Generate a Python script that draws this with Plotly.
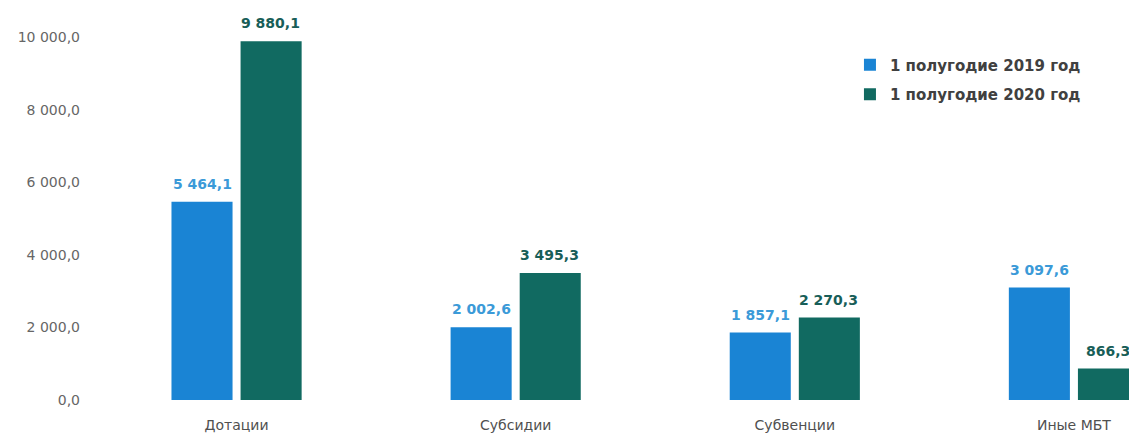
import plotly.graph_objects as go

categories = ["Дотации", "Субсидии", "Субвенции", "Иные МБТ"]
vals_2019 = [5464.1, 2002.6, 1857.1, 3097.6]
vals_2020 = [9880.1, 3495.3, 2270.3, 866.3]
y_ticks = [0, 2000, 4000, 6000, 8000, 10000]

FONT = "DejaVu Sans"
BLUE = "#1a84d4"
TEAL = "#116a61"


def fmt(v):
    s = f"{v:,.1f}"
    return s.replace(",", " ").replace(".", ",")


fig = go.Figure()
fig.add_trace(go.Bar(
    x=categories, y=vals_2019, name="<b>1 полугодие 2019 год</b>",
    legendgroup="a", marker=dict(color=BLUE, line=dict(width=0)),
))
fig.add_trace(go.Bar(
    x=categories, y=vals_2020, name="<b>1 полугодие 2020 год</b>",
    legendgroup="b", marker=dict(color=TEAL, line=dict(width=0)),
))

# value labels above bars, a bit higher than plotly's outside text
for cat, v1, v2 in zip(categories, vals_2019, vals_2020):
    fig.add_annotation(x=cat, y=v1, text="<b>" + fmt(v1) + "</b>",
                       xshift=-34, yshift=8, yanchor="bottom", showarrow=False,
                       font=dict(family=FONT, size=14, color="#3b9ad8"))
    fig.add_annotation(x=cat, y=v2, text="<b>" + fmt(v2) + "</b>",
                       xshift=34, yshift=8, yanchor="bottom", showarrow=False,
                       font=dict(family=FONT, size=14, color="#185e58"))

# page body has an 8px margin, so margins are shifted to compensate
fig.update_layout(
    width=1129, height=426,
    margin=dict(l=89, r=0, t=29, b=34),
    paper_bgcolor="white", plot_bgcolor="white",
    font=dict(family=FONT, color="#555555"),
    barmode="group", bargap=0.505, bargroupgap=0.116,
    showlegend=True,
    legend=dict(x=0.724, y=0.968, xanchor="left", yanchor="top",
                font=dict(size=15, color="#404040"),
                itemwidth=30, tracegroupgap=7),
)
fig.update_xaxes(range=[-0.5, 3.226], showgrid=False, showline=False,
                 automargin=False, ticks="", ticklabelstandoff=15,
                 tickfont=dict(size=14, color="#505050"))
fig.update_yaxes(range=[0, 10000], showgrid=False, zeroline=False,
                 showline=False, automargin=False, tickvals=y_ticks,
                 ticktext=[fmt(v) for v in y_ticks],
                 tickfont=dict(size=14, color="#666666"),
                 ticklabelstandoff=16)

fig.write_html("out.html")
